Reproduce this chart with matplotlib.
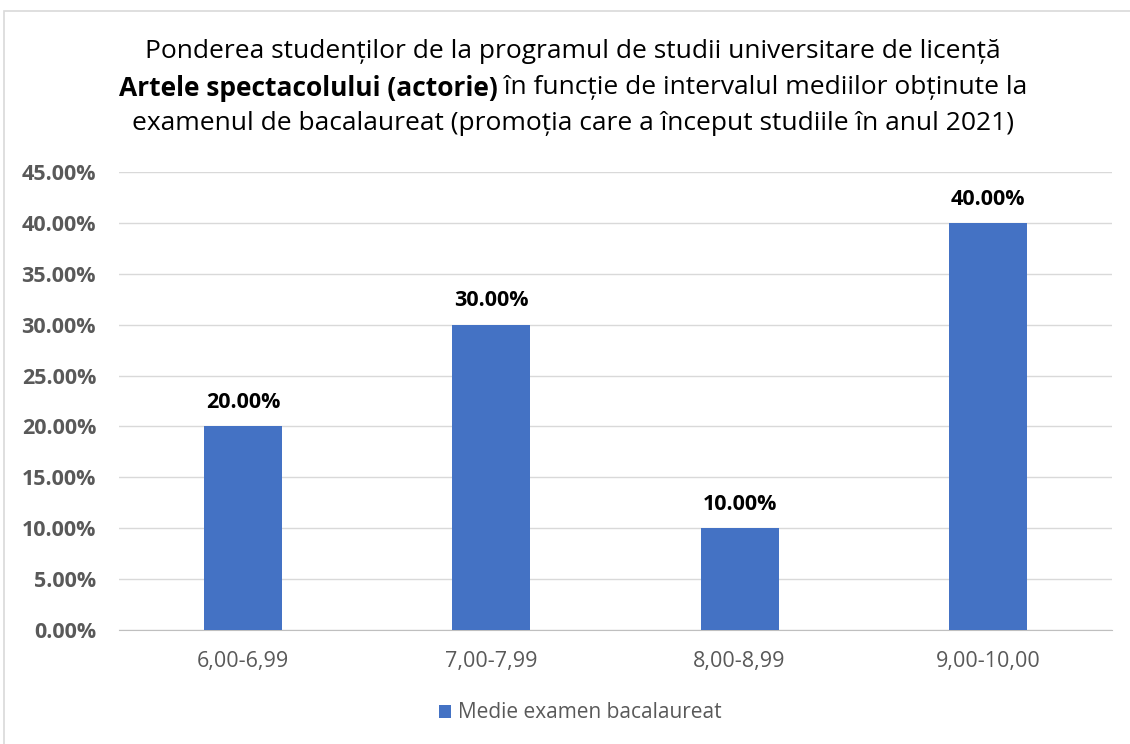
import matplotlib as mpl
mpl.use('Agg')
import matplotlib.pyplot as plt
from matplotlib.ticker import FuncFormatter, MultipleLocator
from matplotlib.patches import Rectangle

plt.rcParams['font.family'] = ['Open Sans', 'DejaVu Sans']

categories = ['6,00-6,99', '7,00-7,99', '8,00-8,99', '9,00-10,00']
values = [0.20, 0.30, 0.10, 0.40]
series_name = 'Medie examen bacalaureat'
title_line1 = 'Ponderea studenților de la programul de studii universitare de licență'
title_bold = 'Artele spectacolului (actorie)'
title_rest = ' în funcție de intervalul mediilor obținute la'
title_line3 = 'examenul de bacalaureat (promoția care a început studiile în anul 2021)'

bar_color = '#4472C4'
grey = '#595959'

fig = plt.figure(figsize=(11.3, 7.44), dpi=100)
fig.patch.set_facecolor('white')

# chart frame (extends beyond the right/bottom edge in the reference)
fig.add_artist(Rectangle((4 / 1130, -0.05), 1.2, 1 - 11 / 744 + 0.05,
                         transform=fig.transFigure, fill=False,
                         edgecolor='#D9D9D9', linewidth=1.2))

ax = fig.add_axes([119 / 1130, 1 - 630 / 744, (1112 - 119) / 1130, (630 - 172) / 744])
x = range(len(categories))
bars = ax.bar(x, values, width=0.315, color=bar_color, zorder=3,
              label=series_name)

for xi, v in zip(x, values):
    ax.text(xi, v + 0.013, f'{v * 100:.2f}%', ha='center', va='bottom',
            fontsize=15.5, fontweight='bold', color='black')

ax.set_xlim(-0.5, len(categories) - 0.5)
ax.set_ylim(0, 0.45)
ax.yaxis.set_major_locator(MultipleLocator(0.05))
ax.yaxis.set_major_formatter(FuncFormatter(lambda v, p: f'{v * 100:.2f}%'))
ax.set_xticks(list(x))
ax.set_xticklabels(categories)
ax.grid(axis='y', color='#D9D9D9', linewidth=1.0, zorder=0)
for s in ['top', 'right', 'left']:
    ax.spines[s].set_visible(False)
ax.spines['bottom'].set_color('#BFBFBF')
ax.tick_params(axis='both', length=0)
ax.tick_params(axis='y', pad=16.5, labelsize=15.5, labelcolor=grey)
ax.tick_params(axis='x', pad=15, labelsize=15.5, labelcolor=grey)
for lab in ax.get_yticklabels():
    lab.set_fontweight('bold')

# title
cx = 573 / 1130
fs = 19
fig.text(cx, 1 - 52 / 744, title_line1, ha='center', va='center', fontsize=fs)
fig.text(cx, 1 - 123 / 744, title_line3, ha='center', va='center', fontsize=fs)
renderer = fig.canvas.get_renderer()
t1 = fig.text(0, 1 - 88 / 744, title_bold, ha='left', va='center',
              fontsize=fs, fontweight='bold')
t2 = fig.text(0, 1 - 88 / 744, title_rest, ha='left', va='center', fontsize=fs)
w1 = t1.get_window_extent(renderer).width / (1130)
w2 = t2.get_window_extent(renderer).width / (1130)
start = cx - (w1 + w2) / 2
t1.set_x(start)
t2.set_x(start + w1)

fig.legend(handles=[bars], labels=[series_name], loc='center',
           bbox_to_anchor=(580 / 1130, 1 - 713 / 744), frameon=False,
           fontsize=15, labelcolor=grey, handlelength=0.6, handleheight=0.6,
           handletextpad=0.3)

plt.savefig('out.png', dpi=100)
